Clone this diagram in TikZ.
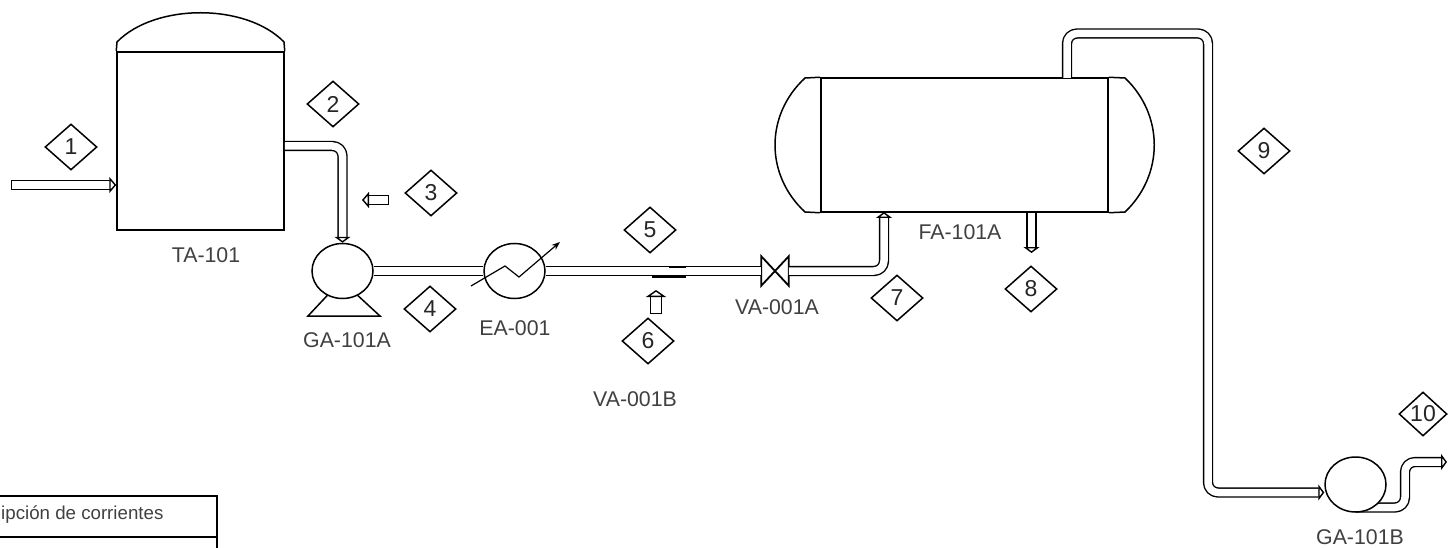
\documentclass[tikz,border=0pt]{standalone}
\usepackage{fontspec}
\setmainfont{Liberation Sans}
\usepackage{xcolor}
\usetikzlibrary{arrows.meta,shapes.geometric,positioning,backgrounds}
\definecolor{labelgray}{RGB}{64, 64, 64}
\tikzset{
  stream/.style={draw, shape=diamond, inner sep=0pt, minimum width=52pt, minimum height=46pt, font=\fontsize{23}{23}\selectfont, text=black!85},
  tag/.style={font=\fontsize{21.3}{21.3}\selectfont, text=labelgray, inner sep=0pt},
  pumpbody/.style={draw, fill=white, shape=ellipse, line width=1.5pt, inner sep=0pt, minimum width=61pt, minimum height=55pt},
  pipe/.style={double, double distance=7.5pt, line width=1.4pt, rounded corners=10pt, line join=round},
  flow/.style={pipe, -{Triangle[open, fill=white, length=6pt, width=16pt]}},
  shortflow/.style={pipe, {Bar[width=10.3pt]}-{Triangle[open, fill=white, length=7pt, width=16pt]}},
  vessel/.style={draw, line width=1.5pt, inner sep=0pt}
}

\begin{document}
\begin{tikzpicture}[x=1pt, y=-1pt, line width=1.5pt]
  \useasboundingbox (0,0) rectangle (1448,548);

  % Equipment
  \node[vessel, minimum width=167pt, minimum height=178pt] (tank) at (200.5,141) {};
  \draw (tank.north west) -- (117,42) .. controls (155,3) and (246,3) .. (284,42) -- (tank.north east);
  \node[vessel, minimum width=287pt, minimum height=134pt] (drum) at (964.5,145) {};
  \draw (drum.north west) -- (805,78) .. controls (765,115) and (765,175) .. (805,212) -- (drum.south west);
  \draw (drum.north east) -- (1125,78) .. controls (1164,115) and (1164,175) .. (1125,212) -- (drum.south east);
  \node[pumpbody] (pumpA) at (342.5,271) {};
  \draw (pumpA.-122) -- (308,316) -- (380,316) -- (pumpA.-58);
  \node[pumpbody] (exch) at (514.5,271) {};
  \node[pumpbody] (pumpB) at (1355.5,484.5) {};
  \node[inner sep=0pt, minimum width=26pt, minimum height=28pt] (valveA) at (775,271) {};
  \draw[line width=1.8pt] (valveA.north west) -- (valveA.south east) -- (valveA.north east) -- (valveA.south west) -- cycle;

  % Free ends
  \coordinate (feed) at (11,185);
  \coordinate (arrowThreeA) at (389,200);
  \coordinate (arrowThreeB) at (362,200);
  \coordinate (arrowSixA) at (656,314);
  \coordinate (arrowSixB) at (656,290);
  \coordinate (arrowEightA) at (1031.5,213);
  \coordinate (arrowEightB) at (1031.5,253);
  \coordinate (outlet) at (1447,462);

  % Pipes
  \draw[shortflow] (feed) -- (feed -| tank.west);
  \draw[flow] ([yshift=-5pt]tank.east) -| (pumpA.north);
  \draw[pipe] (pumpA.east) -- (exch.west);
  \draw[pipe] (exch.east) -- (valveA.west);
  \draw[flow] (valveA.east) -| (884,212);
  \draw[flow] (1067,78) |- (1208,33.5) |- (pumpB.west |- 0,492.5);
  \begin{scope}[on background layer]
    \draw[flow] (pumpB.center |- 0,507.5) -- (1405,507.5) -- (1405,462) -- (outlet);
  \end{scope}
  \draw[shortflow] (arrowThreeA) -- (arrowThreeB);
  \draw[pipe, double distance=9.5pt, {Bar[width=12.5pt]}-{Triangle[open, fill=white, length=7pt, width=20pt]}] (arrowSixA) -- (arrowSixB);
  \draw[flow] (arrowEightA) -- (arrowEightB);

  % VA-001B
  \draw[line width=3pt] (652,276) -- (686,276);
  \draw[line width=2pt] (669,266.5) -- (686,266.5);

  % Exchanger arrow
  \coordinate (zigStart) at (471,286);
  \coordinate (zigEnd) at (560,242);
  \draw[-{Stealth}, line width=1.2pt] (zigStart) -- (505,266) -- (519,277) -- (zigEnd);

  % Stream numbers
  \node[stream] (s1) at (71,147) {1};
  \node[stream] (s2) at (333,104) {2};
  \node[stream] (s3) at (431,193) {3};
  \node[stream] (s4) at (430,309) {4};
  \node[stream] (s5) at (650,230) {5};
  \node[stream] (s6) at (648,341) {6};
  \node[stream] (s7) at (897,298) {7};
  \node[stream] (s8) at (1031,289) {8};
  \node[stream] (s9) at (1264,151) {9};
  \node[stream, minimum width=48pt, minimum height=44pt] (s10) at (1423,414) {10};

  % Labels
  \node[tag] (tagTank) at (206,255) {TA-101};
  \node[tag] (tagPumpA) at (347,340) {GA-101A};
  \node[tag] (tagExch) at (515,328) {EA-001};
  \node[tag] (tagValveA) at (777,307) {VA-001A};
  \node[tag] (tagValveB) at (635,399) {VA-001B};
  \node[tag] (tagDrum) at (960,232) {FA-101A};
  \node[tag] (tagPumpB) at (1360,537) {GA-101B};

  % Table
  \draw (0,496) -- (217,496) -- (217,548);
  \draw (0,537) -- (217,537);
  \node[anchor=west, inner sep=0pt, font=\fontsize{18.7}{18.7}\selectfont, text=labelgray] (tableHead) at (0.5,515) {ipción de corrientes};
\end{tikzpicture}
\end{document}
